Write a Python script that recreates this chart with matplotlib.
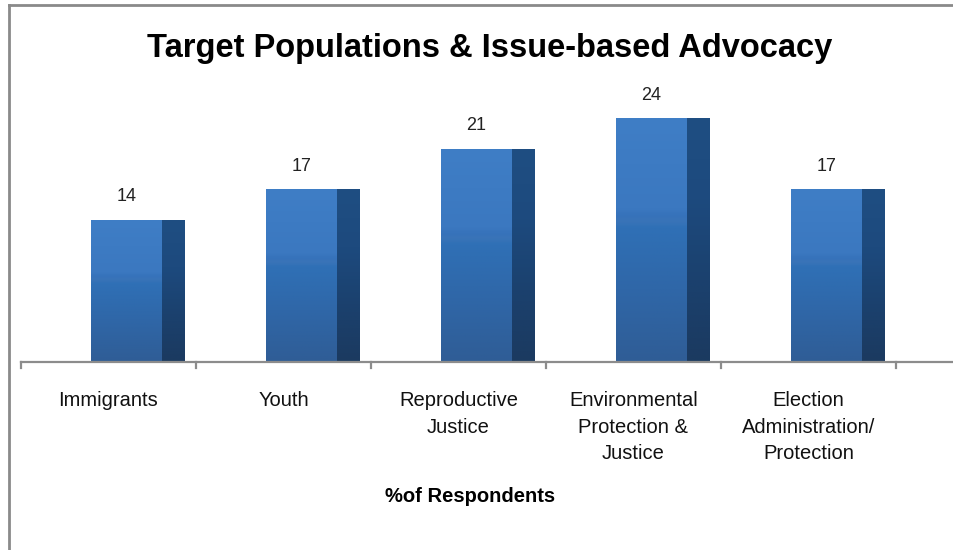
import matplotlib.pyplot as plt
import numpy as np
from matplotlib.lines import Line2D
from matplotlib.colors import LinearSegmentedColormap

# data
categories = ["Immigrants", "Youth", "Reproductive\nJustice",
              "Environmental\nProtection &\nJustice",
              "Election\nAdministration/\nProtection"]
values = [14, 17, 21, 24, 17]

fig = plt.figure(figsize=(9.54, 5.5), dpi=100)
W, H = 954, 550

# axes: x=21..954 px, y=80..362 px
ax = fig.add_axes([21 / W, (H - 362) / H, (954 - 21) / W, (362 - 80) / H])
ax.set_xlim(-0.5, 4.5 + 58 / 175)
ax.set_ylim(0, 282 / 10.15)
ax.axis("off")

front_w = 0.406
side_w = 0.131
x0 = np.arange(len(values)) - 0.1

grad = np.linspace(0, 1, 200).reshape(-1, 1)
front_cmap = LinearSegmentedColormap.from_list(
    "front", [(0, "#2f5d96"), (0.3, "#2f67a8"), (0.55, "#2f70b6"),
              (0.58, "#3a74b8"), (0.6, "#3672ba"), (0.63, "#3b78c0"),
              (1, "#3f7ec6")])
side_cmap = LinearSegmentedColormap.from_list(
    "side", ["#1b3a60", "#1b416e", "#1d4a7e", "#1f4e82"])

for x, v in zip(x0, values):
    fb = ax.bar(x, v, width=front_w, align="edge", color="#3470b5",
                edgecolor="none")[0]
    im = ax.imshow(grad, cmap=front_cmap, aspect="auto", origin="lower",
                   extent=(x, x + front_w, 0, v), zorder=2)
    im.set_clip_path(fb)
    sb = ax.bar(x + front_w, v, width=side_w, align="edge", color="#1d4575",
                edgecolor="none")[0]
    im2 = ax.imshow(grad, cmap=side_cmap, aspect="auto", origin="lower",
                    extent=(x + front_w, x + front_w + side_w, 0, v), zorder=2)
    im2.set_clip_path(sb)
    ax.text(x + front_w / 2, v + 1.45, str(v), ha="center", va="bottom",
            fontsize=13, family="Liberation Sans", color="#222222")

# x axis line and ticks
ax.plot([-0.5, 4.5 + 58 / 175], [0, 0], color="#8c8c8c", lw=1.6,
        clip_on=False, zorder=3)
for t in np.arange(-0.5, 5.0, 1.0):
    ax.plot([t, t], [0, -0.6], color="#8c8c8c", lw=1.6, clip_on=False)

for i, lab in enumerate(categories):
    ax.text(i, -2.9, lab, ha="center", va="top", fontsize=14.5,
            family="Liberation Sans", linespacing=1.5, color="#111111")

fig.text(470 / W, 1 - 496 / H, "%of Respondents", ha="center", va="center",
         fontsize=14.5, fontweight="bold", family="Liberation Sans")

fig.text(490 / W, 1 - 48 / H, "Target Populations & Issue-based Advocacy",
         ha="center", va="center", fontsize=23.5, fontweight="bold",
         family="Liberation Sans")

# chart border (left and top)
fig.add_artist(Line2D([9 / W, 9 / W], [0, 1 - 5 / H], color="#8a8a8a", lw=2))
fig.add_artist(Line2D([9 / W, 1], [1 - 5 / H, 1 - 5 / H], color="#8a8a8a", lw=2))

fig.savefig("out.png", dpi=100)
